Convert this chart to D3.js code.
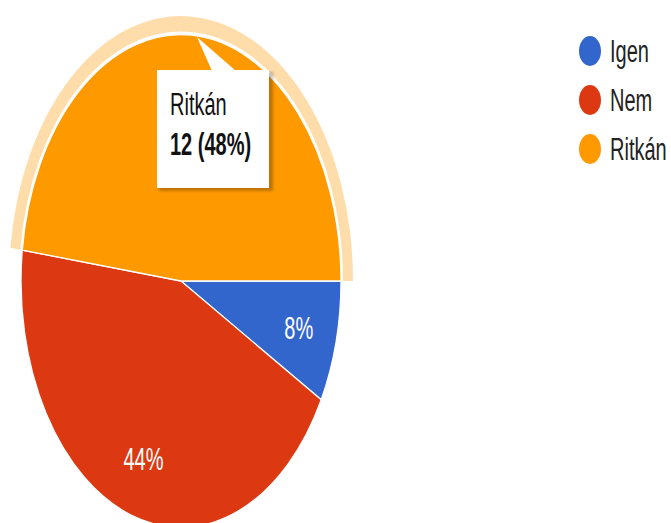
<!DOCTYPE html>
<html>
<head>
<meta charset="utf-8">
<script src="https://cdn.jsdelivr.net/npm/d3@7/dist/d3.min.js"></script>
<style>
  html, body { margin: 0; padding: 0; background: #fff; }
  svg { display: block; }
  text { font-family: "Liberation Sans", Arial, sans-serif; }
</style>
</head>
<body>
<div id="chart"></div>
<script>
// Answers and their counts
const categories = ["Igen", "Nem", "Ritkán"];
const counts = [2, 11, 12];
const colors = ["#3366cc", "#dc3912", "#ff9900"];
const highlighted = "Ritkán";

const W = 671, H = 523;
const cx = 181, cy = 281;
const r = 160;          // horizontal radius
const sy = 1.54;        // vertical stretch of the whole drawing
const fontSize = 20;

const svg = d3.select("#chart").append("svg")
  .attr("width", W).attr("height", H);

svg.append("rect").attr("width", W).attr("height", H).attr("fill", "#fff");

const total = d3.sum(counts);
const data = categories.map((c, i) => ({ name: c, value: counts[i], color: colors[i] }));

const pie = d3.pie()
  .sort(null)
  .value(d => d.value)
  .startAngle(Math.PI / 2)
  .endAngle(Math.PI / 2 + 2 * Math.PI);

const arcs = pie(data);
const arc = d3.arc().innerRadius(0).outerRadius(r);
const ring = d3.arc().innerRadius(r + 2).outerRadius(r + 12);
const labelArc = d3.arc().innerRadius(r * 0.76).outerRadius(r * 0.76);

const g = svg.append("g")
  .attr("transform", `translate(${cx},${cy}) scale(1,${sy})`);

// hover ring around the highlighted slice
g.selectAll("path.ring")
  .data(arcs.filter(a => a.data.name === highlighted))
  .join("path")
  .attr("class", "ring")
  .attr("d", ring)
  .attr("fill", d => d.data.color)
  .attr("fill-opacity", 0.33);

g.selectAll("path.slice")
  .data(arcs)
  .join("path")
  .attr("class", "slice")
  .attr("d", arc)
  .attr("fill", d => d.data.color)
  .attr("stroke", "#fff")
  .attr("stroke-width", 1.3)
  .attr("vector-effect", "non-scaling-stroke");

// percentage labels inside slices (the highlighted one shows its tooltip instead)
svg.selectAll("text.pct")
  .data(arcs.filter(a => a.data.name !== highlighted))
  .join("text")
  .attr("class", "pct")
  .attr("transform", d => {
    const [x, y] = labelArc.centroid(d);
    return `translate(${cx + x},${cy + y * sy}) scale(1,${sy})`;
  })
  .attr("text-anchor", "middle")
  .attr("dy", "0.36em")
  .attr("font-size", fontSize)
  .attr("fill", "#fff")
  .text(d => Math.round(d.value / total * 100) + "%");

// legend
const legend = svg.append("g");
const rows = legend.selectAll("g")
  .data(data)
  .join("g")
  .attr("transform", (d, i) => `translate(590,${51 + i * 49})`);

rows.append("ellipse")
  .attr("rx", 11)
  .attr("ry", 15)
  .attr("fill", d => d.color);

rows.append("text")
  .attr("transform", `translate(20,0) scale(1,${sy})`)
  .attr("dy", "0.36em")
  .attr("font-size", fontSize)
  .attr("fill", "#222")
  .text(d => d.name);

// tooltip for the highlighted slice
const hd = data.find(d => d.name === highlighted);
const tip = svg.append("g");
const defs = svg.append("defs");
defs.append("filter").attr("id", "shadow")
  .attr("x", "-20%").attr("y", "-20%").attr("width", "140%").attr("height", "140%")
  .append("feGaussianBlur").attr("stdDeviation", 1.5);

tip.append("rect")
  .attr("x", 159).attr("y", 72).attr("width", 114).attr("height", 119)
  .attr("fill", "#000").attr("fill-opacity", 0.25)
  .attr("filter", "url(#shadow)");
tip.append("rect")
  .attr("x", 157).attr("y", 70).attr("width", 112).attr("height", 118)
  .attr("fill", "#fff");
tip.append("path")
  .attr("d", "M197,37 L212,71 L236,71 Z")
  .attr("fill", "#fff");

tip.append("text")
  .attr("transform", `translate(170,115) scale(1,${sy})`)
  .attr("font-size", fontSize)
  .attr("fill", "#111")
  .text(hd.name);
tip.append("text")
  .attr("transform", `translate(170,155) scale(1,${sy})`)
  .attr("font-size", fontSize)
  .attr("font-weight", "bold")
  .attr("fill", "#111")
  .text(`${hd.value} (${Math.round(hd.value / total * 100)}%)`);
</script>
</body>
</html>
